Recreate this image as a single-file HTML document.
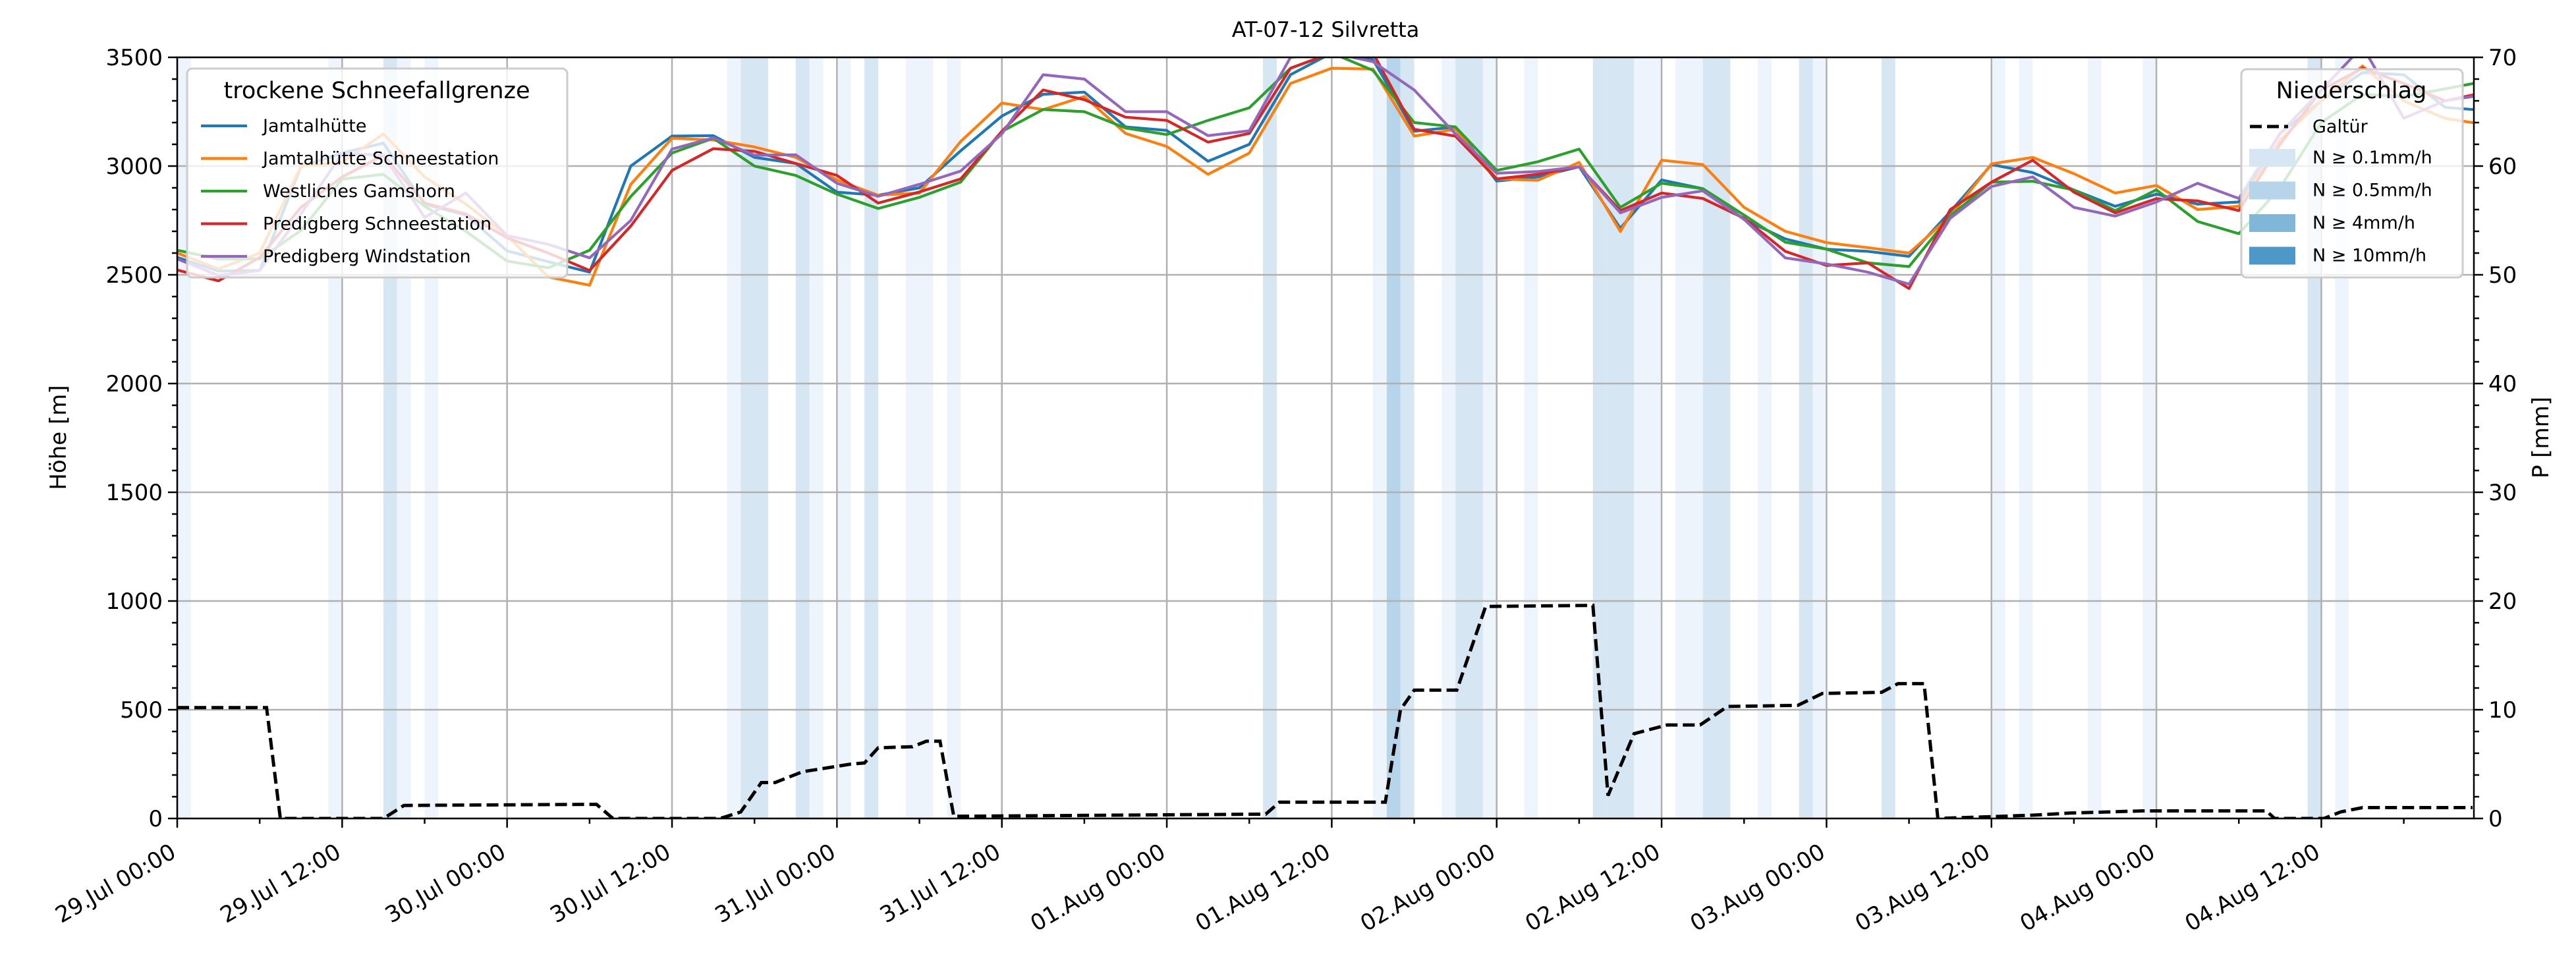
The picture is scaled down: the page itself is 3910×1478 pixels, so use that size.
<!DOCTYPE html>
<html><head><meta charset="utf-8">
<style>
html,body{margin:0;padding:0;background:#fff;}
svg{display:block;font-family:"DejaVu Sans","Liberation Sans",sans-serif;}
</style></head>
<body>
<svg id="chart" width="3910" height="1478" viewBox="0 0 3910 1478" xmlns="http://www.w3.org/2000/svg">
<defs><clipPath id="plotclip"><rect x="269" y="87" width="3486" height="1155"/></clipPath></defs>
<rect width="3910" height="1478" fill="#fff"/>
<g id="bands" clip-path="url(#plotclip)"></g>
<g id="grid"></g>
<g id="series" clip-path="url(#plotclip)"></g>
<g id="axes"></g>
<text x="2012" y="56" font-size="32" text-anchor="middle">AT-07-12 Silvretta</text>
<text transform="translate(100,664) rotate(-90)" font-size="34" text-anchor="middle">Höhe [m]</text>
<text transform="translate(3868,664) rotate(-90)" font-size="34" text-anchor="middle">P [mm]</text>
<g id="legend1">
<rect x="284" y="104" width="577" height="317" rx="8" fill="#fff" fill-opacity="0.8" stroke="#cccccc" stroke-width="3"/>
<text x="572" y="149" font-size="35" text-anchor="middle">trockene Schneefallgrenze</text>
</g>
<g id="legend2">
<rect x="3402" y="105" width="336" height="316" rx="8" fill="#fff" fill-opacity="0.8" stroke="#cccccc" stroke-width="3"/>
<text x="3569" y="149" font-size="35" text-anchor="middle">Niederschlag</text>
</g>
</svg>
<script>
var NS='http://www.w3.org/2000/svg';
var hours=[0,3,6,9,12,15,18,21,24,27,30,33,36,39,42,45,48,51,54,57,60,63,66,69,72,75,78,81,84,87,90,93,96,99,102,105,108,111,114,117,120,123,126,129,132,135,138,141,144,147,150,153,156,159,162,165,168];
var jamtal=[2580,2517,2520,2997,3060,3105,2825,2775,2610,2560,2512,3000,3138,3140,3040,3012,2880,2866,2900,3070,3230,3330,3340,3180,3164,3022,3100,3420,3520,3490,3160,3180,2931,2950,2997,2714,2936,2896,2755,2665,2618,2608,2585,2790,3007,2970,2890,2815,2871,2825,2835,3150,3300,3430,3420,3270,3255];
var jamtalSchnee=[2600,2527,2600,3000,3017,3148,2950,2825,2680,2490,2452,2916,3128,3120,3088,3040,2936,2866,2876,3113,3290,3260,3320,3150,3090,2962,3060,3380,3450,3446,3138,3169,2941,2935,3017,2699,3027,3007,2810,2700,2648,2625,2600,2770,3010,3040,2965,2876,2911,2800,2815,3120,3300,3460,3300,3219,3190];
var gamshorn=[2613,2573,2573,2704,2940,2962,2815,2700,2563,2532,2613,2860,3060,3128,3000,2957,2871,2805,2856,2926,3159,3260,3250,3175,3145,3210,3268,3450,3520,3440,3200,3180,2980,3020,3078,2810,2921,2896,2775,2650,2618,2555,2538,2770,2926,2930,2890,2795,2891,2745,2689,2900,3200,3330,3320,3355,3391];
var predSchnee=[2522,2472,2580,2810,2950,3050,2830,2780,2670,2600,2520,2724,2980,3080,3068,3012,2957,2830,2881,2941,3160,3350,3305,3225,3210,3110,3150,3450,3520,3520,3169,3138,2941,2962,2997,2795,2876,2851,2760,2608,2543,2555,2437,2800,2926,3027,2880,2785,2850,2840,2795,3100,3350,3450,3380,3300,3340];
var predWind=[2573,2497,2520,2780,3058,3050,2764,2876,2680,2640,2578,2750,3078,3130,3050,3052,2921,2861,2916,2977,3148,3420,3400,3250,3250,3140,3162,3500,3520,3480,3350,3148,2967,2975,2997,2785,2856,2886,2755,2578,2550,2512,2457,2760,2906,2950,2810,2770,2835,2921,2851,3150,3350,3550,3220,3300,3330];
var seriesNames=['Jamtalhütte','Jamtalhütte Schneestation','Westliches Gamshorn','Predigberg Schneestation','Predigberg Windstation'];
var precipHours=[0,6.5,7.5,15,16.5,30.5,31.7,39.5,41,42.5,43.5,45.5,46.5,49,50,51,53.5,54.5,55.5,56.5,79.2,80.2,87.9,89,90,93.1,95.2,103,104.1,106,108.4,110.8,112.8,117.9,119.7,124,125.2,127.1,128.1,135,137.7,143,152,152.6,156.2,157.4,159,167];
var precipMM=[10.2,10.2,0,0,1.2,1.3,0,0,0.6,3.3,3.3,4.3,4.5,5,5.1,6.5,6.6,7.1,7.1,0.2,0.4,1.5,1.5,10,11.8,11.8,19.5,19.6,2.1,7.8,8.6,8.6,10.3,10.4,11.5,11.6,12.4,12.4,0,0.3,0.5,0.7,0.7,0,0,0.6,1,1];
var bandHours=[0,11,15,16,18,40,41,42,45,46,48,50,53,54,56,79,87,88,89,92,93,94,95,98,103,104,105,106,107,109,110,111,112,115,118,119,124,132,134,139,143,155,157];
var bandLevels=[0,0,1,0,0,0,1,1,1,0,0,1,0,0,0,1,0,2,1,0,1,1,0,0,1,1,1,0,0,0,0,1,1,0,1,0,1,0,0,0,0,1,0];
var xTickLabels=['29.Jul 00:00','29.Jul 12:00','30.Jul 00:00','30.Jul 12:00','31.Jul 00:00','31.Jul 12:00','01.Aug 00:00','01.Aug 12:00','02.Aug 00:00','02.Aug 12:00','03.Aug 00:00','03.Aug 12:00','04.Aug 00:00','04.Aug 12:00'];
var yTicks=[0,500,1000,1500,2000,2500,3000,3500];
var y2Ticks=[0,10,20,30,40,50,60,70];
var legendPrecipLabels=['N ≥ 0.1mm/h','N ≥ 0.5mm/h','N ≥ 4mm/h','N ≥ 10mm/h'];

var L=269,R=3755,T=87,B=1242,TMAX=167.1;
function xs(h){return L+h*(R-L)/TMAX;}
function ys(m){return B-m*(B-T)/3500;}
function y2s(p){return B-p*(B-T)/70;}
var colors=['#1f77b4','#ff7f0e','#2ca02c','#d62728','#9467bd'];
var bandColors=['#eef4fb','#d6e6f3','#b6d4ea','#80b6d8','#4b98c9'];
function mk(tag,attrs,parent){var e=document.createElementNS(NS,tag);for(var k in attrs)e.setAttribute(k,attrs[k]);parent.appendChild(e);return e;}

var bandsG=document.getElementById('bands');
for(var i=0;i<bandHours.length;i++){
  var r=mk('rect',{x:xs(bandHours[i]),y:T,width:xs(bandHours[i]+1)-xs(bandHours[i]),height:B-T,fill:bandColors[bandLevels[i]]},bandsG);
  
  
}
var grid=document.getElementById('grid');
for(var i=0;i<xTickLabels.length;i++){
  var g=mk('line',{x1:xs(i*12),x2:xs(i*12),y1:T,y2:B,stroke:'#b0b0b0','stroke-width':2.5},grid);
  
  
}
for(var i=0;i<yTicks.length;i++){
  var g=mk('line',{x1:L,x2:R,y1:ys(yTicks[i]),y2:ys(yTicks[i]),stroke:'#b0b0b0','stroke-width':2.5},grid);
  
  
}
var sg=document.getElementById('series');
var all=[jamtal,jamtalSchnee,gamshorn,predSchnee,predWind];
for(var s=0;s<all.length;s++){
  var d='';
  for(var i=0;i<hours.length;i++){d+=(i?'L':'M')+xs(hours[i]).toFixed(1)+','+ys(all[s][i]).toFixed(1);}
  var p=mk('path',{d:d,fill:'none',stroke:colors[s],'stroke-width':4.2,'stroke-linejoin':'round'},sg);
  
  
}
var pd='';
for(var i=0;i<precipHours.length;i++){pd+=(i?'L':'M')+xs(precipHours[i]).toFixed(1)+','+y2s(precipMM[i]).toFixed(1);}
var pp=mk('path',{d:pd,fill:'none',stroke:'#000','stroke-width':5,'stroke-dasharray':'18,8'},sg);



var ax=document.getElementById('axes');
mk('rect',{x:L,y:T,width:R-L,height:B-T,fill:'none',stroke:'#000','stroke-width':2.5},ax);
for(var h=0;h<=TMAX;h+=6){
  var major=(h%12===0);
  mk('line',{x1:xs(h),x2:xs(h),y1:B,y2:B+(major?14:8),stroke:'#000','stroke-width':2.5},ax);
}
for(var i=0;i<xTickLabels.length;i++){
  var x=xs(i*12)-12,y=B+36;
  var t=mk('text',{x:x,y:y,'font-size':34,'text-anchor':'end','dominant-baseline':'hanging',transform:'rotate(-30 '+x+' '+y+')'},ax);
  t.textContent=xTickLabels[i];
  
  
}
for(var m=0;m<=3500;m+=100){
  var major=(m%500===0);
  mk('line',{x1:L-(major?14:8),x2:L,y1:ys(m),y2:ys(m),stroke:'#000','stroke-width':2.5},ax);
}
for(var i=0;i<yTicks.length;i++){
  var t=mk('text',{x:L-22,y:ys(yTicks[i])+12,'font-size':34,'text-anchor':'end'},ax);
  t.textContent=yTicks[i];
  
  
}
for(var p=0;p<=70;p+=2){
  var major=(p%10===0);
  mk('line',{x1:R,x2:R+(major?14:8),y1:y2s(p),y2:y2s(p),stroke:'#000','stroke-width':2.5},ax);
}
for(var i=0;i<y2Ticks.length;i++){
  var t=mk('text',{x:R+22,y:y2s(y2Ticks[i])+12,'font-size':34,'text-anchor':'start'},ax);
  t.textContent=y2Ticks[i];
  
  
}
var lg1=document.getElementById('legend1');
for(var s=0;s<seriesNames.length;s++){
  var yy=191+s*49.5;
  var ln=mk('line',{x1:305,x2:375,y1:yy,y2:yy,stroke:colors[s],'stroke-width':4.2},lg1);
  
  
  var tx=mk('text',{x:399,y:yy+9,'font-size':27},lg1);
  tx.textContent=seriesNames[s];
  
  
}
var lg2=document.getElementById('legend2');
var dl=mk('line',{x1:3415,x2:3473,y1:192,y2:192,stroke:'#000','stroke-width':5,'stroke-dasharray':'18,8'},lg2);


var gt=mk('text',{x:3510,y:201,'font-size':27},lg2);
gt.textContent='Galtür';


for(var i=0;i<legendPrecipLabels.length;i++){
  var yy=239+i*49.5;
  var pr=mk('rect',{x:3414,y:yy-13,width:70,height:27,fill:bandColors[i+1]},lg2);
  
  
  var tx=mk('text',{x:3510,y:yy+9,'font-size':27},lg2);
  tx.textContent=legendPrecipLabels[i];
  
  
}
</script>
</body></html>
